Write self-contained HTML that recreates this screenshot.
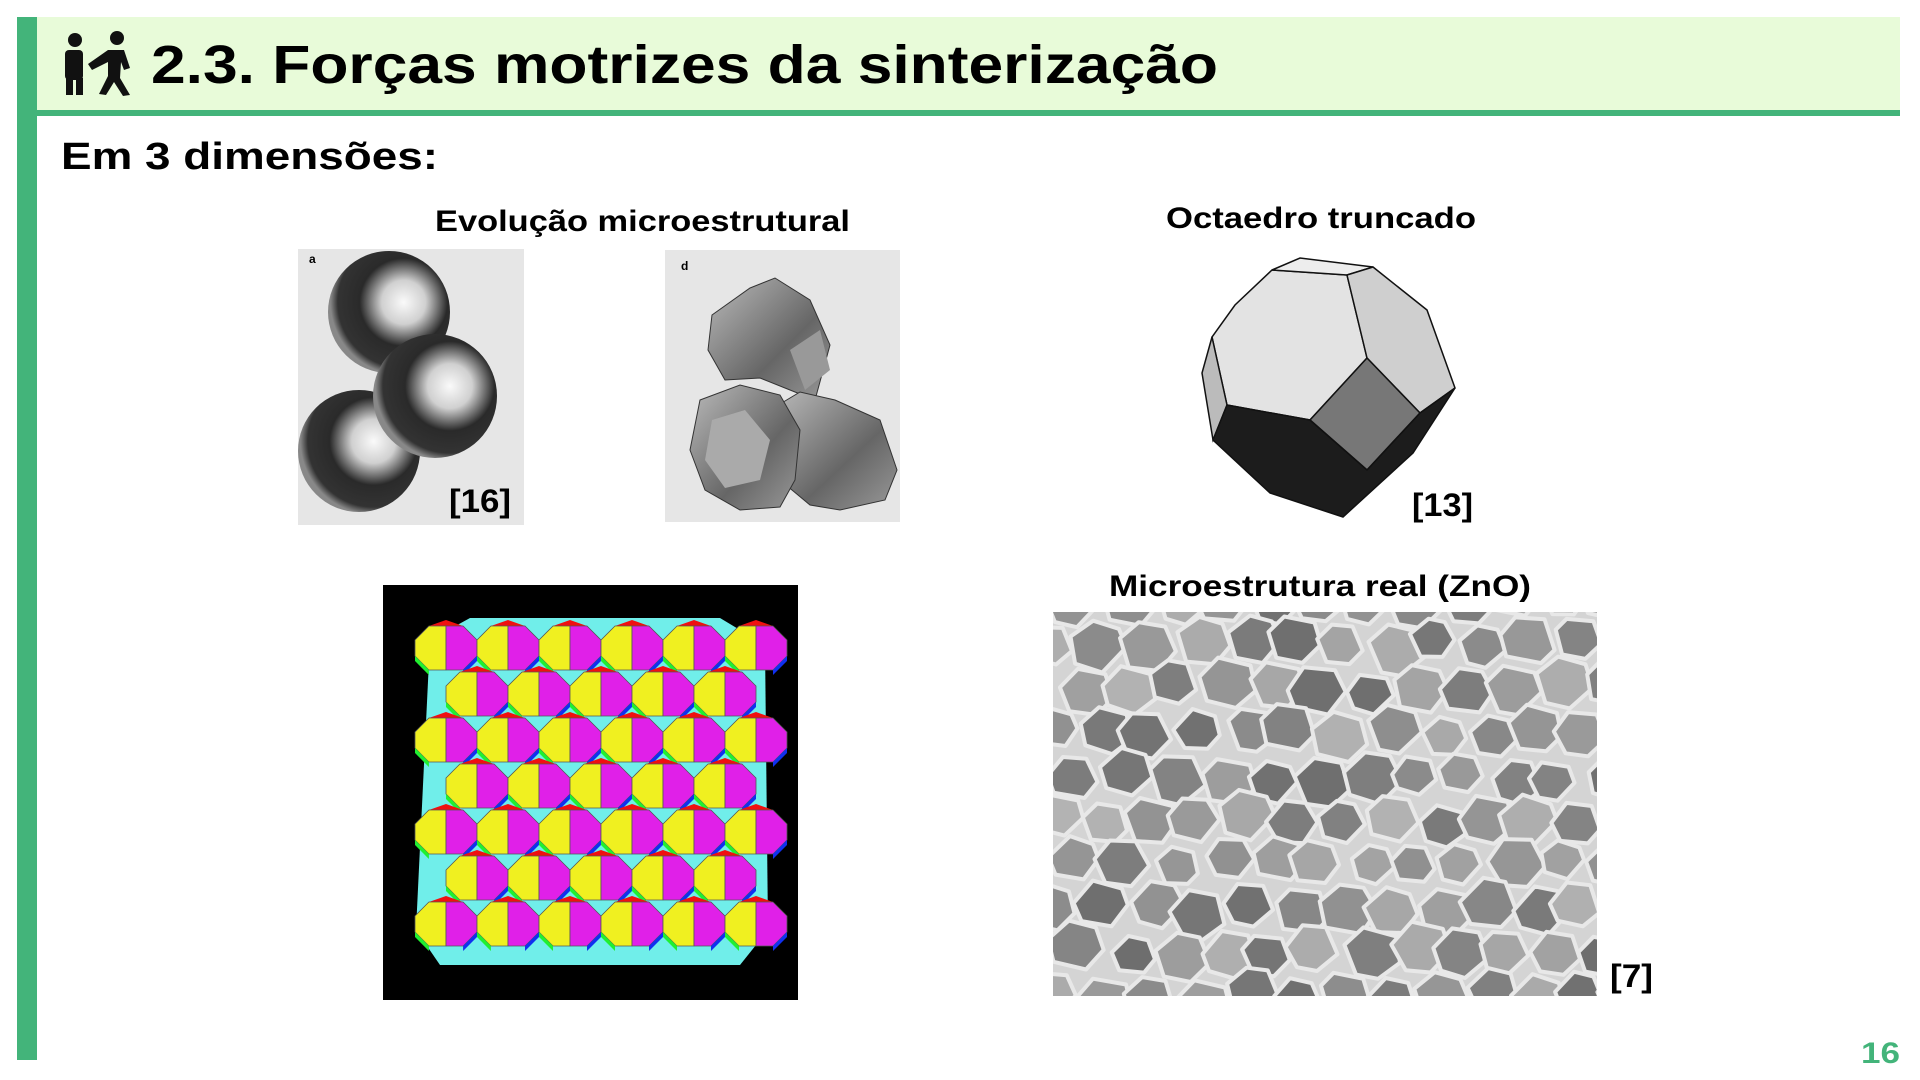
<!DOCTYPE html>
<html><head><meta charset="utf-8"><style>
html,body{margin:0;padding:0;background:#fff;width:1920px;height:1080px;overflow:hidden}
svg{display:block}
text{font-family:"Liberation Sans",sans-serif;font-weight:bold}
</style></head><body>
<svg id="s" width="1920" height="1080" viewBox="0 0 1920 1080">
<defs>
<radialGradient id="sph" cx="0.62" cy="0.42" r="0.6">
<stop offset="0" stop-color="#fafafa"/><stop offset="0.3" stop-color="#d0d0d0"/><stop offset="0.6" stop-color="#2a2a2a"/><stop offset="0.9" stop-color="#333"/><stop offset="1" stop-color="#888"/></radialGradient>
<linearGradient id="fac" x1="0" y1="0" x2="1" y2="1"><stop offset="0" stop-color="#bbb"/><stop offset="0.6" stop-color="#666"/><stop offset="1" stop-color="#999"/></linearGradient>
<clipPath id="zclip"><rect x="1053" y="612" width="544" height="384"/></clipPath>
</defs>
<rect x="17" y="17" width="1883" height="93" fill="#e8fbd9"/>
<rect x="17" y="110" width="1883" height="6" fill="#43b47a"/>
<rect x="17" y="17" width="20" height="1043" fill="#43b47a"/>
<g fill="#111">
<circle cx="75" cy="40" r="7"/><rect x="65" y="50" width="18" height="30" rx="4"/><rect x="66" y="78" width="7" height="17"/><rect x="76" y="78" width="7" height="17"/>
<circle cx="117" cy="38" r="7"/><path d="M108 50 L124 50 L130 68 L124 70 L121 62 L120 78 L130 95 L123 96 L114 82 L106 95 L99 94 L108 76 L108 62 L92 70 L88 64 Z"/>
</g>
<text x="151" y="83" font-size="54" textLength="1067" lengthAdjust="spacingAndGlyphs">2.3. Forças motrizes da sinterização</text>
<text x="61" y="169" font-size="38" textLength="377" lengthAdjust="spacingAndGlyphs">Em 3 dimensões:</text>
<text x="435" y="231" font-size="30" textLength="415" lengthAdjust="spacingAndGlyphs">Evolução microestrutural</text>
<text x="1166" y="228" font-size="30" textLength="310" lengthAdjust="spacingAndGlyphs">Octaedro truncado</text>
<text x="1109" y="596" font-size="30" textLength="422" lengthAdjust="spacingAndGlyphs">Microestrutura real (ZnO)</text>

<g>
<rect x="298" y="249" width="226" height="276" fill="#e6e6e6"/>
<text x="309" y="263" font-size="12" font-family="Liberation Serif" font-weight="normal">a</text>
<circle cx="389" cy="312" r="61" fill="url(#sph)"/>
<circle cx="359" cy="451" r="61" fill="url(#sph)"/>
<circle cx="435" cy="396" r="62" fill="url(#sph)"/>
</g>
<text x="449" y="512" font-size="32" textLength="62" lengthAdjust="spacingAndGlyphs">[16]</text>

<g>
<rect x="665" y="250" width="235" height="272" fill="#e6e6e6"/>
<text x="681" y="270" font-size="12" font-family="Liberation Serif" font-weight="normal">d</text>
<polygon points="750,288 775,278 810,300 830,345 815,400 790,390 760,378 725,380 708,350 712,315" fill="url(#fac)" stroke="#333"/>
<polygon points="770,410 800,392 835,400 880,420 897,470 885,500 840,510 810,505 780,480" fill="url(#fac)" stroke="#333"/>
<polygon points="700,400 740,385 780,395 800,430 795,480 780,507 740,510 705,490 690,450" fill="url(#fac)" stroke="#333"/>
<polygon points="712,420 745,410 770,440 760,480 725,488 705,460" fill="#aaa"/>
<polygon points="790,350 820,330 830,370 805,390" fill="#999"/>
</g>

<g stroke="#111" stroke-width="1.5">
<polygon points="1272,270 1347,275 1367,358 1310,420 1227,405 1212,337 1235,305" fill="#e3e3e3"/>
<polygon points="1272,270 1300,258 1373,267 1347,275" fill="#ededed"/>
<polygon points="1347,275 1373,267 1427,310 1455,388 1420,413 1367,358" fill="#cfcfcf"/>
<polygon points="1367,358 1420,413 1367,470 1310,420" fill="#777"/>
<polygon points="1212,337 1227,405 1213,440 1202,373" fill="#bbb"/>
<polygon points="1227,405 1310,420 1367,470 1420,413 1455,388 1413,453 1343,517 1270,493 1213,440" fill="#1c1c1c"/>
</g>
<text x="1412" y="516" font-size="32" textLength="61" lengthAdjust="spacingAndGlyphs">[13]</text>

<g>
<rect x="383" y="585" width="415" height="415" fill="#000"/>
<g id="cells"></g>
</g>

<g>
<rect x="1053" y="612" width="544" height="384" fill="#d4d4d4"/>
<g id="grains" clip-path="url(#zclip)"></g>
</g>
<text x="1610" y="987" font-size="32" textLength="43" lengthAdjust="spacingAndGlyphs">[7]</text>
<text x="1861" y="1063" font-size="30" fill="#43b47a" textLength="39" lengthAdjust="spacingAndGlyphs">16</text>
</svg>
<script>
var NS='http://www.w3.org/2000/svg';
var cells=document.getElementById('cells');
function poly(g,pts,fill,stroke,sw){var p=document.createElementNS(NS,'polygon');p.setAttribute('points',pts.map(function(a){return a[0].toFixed(1)+','+a[1].toFixed(1)}).join(' '));p.setAttribute('fill',fill);if(stroke){p.setAttribute('stroke',stroke);p.setAttribute('stroke-width',sw||'0.8');p.setAttribute('stroke-linejoin','round');}g.appendChild(p);return p;}
// colored truncated-octahedron packing: background of cyan, then hex pairs
poly(cells,[[430,640],[470,618],[720,618],[765,645],[768,930],[740,965],[440,965],[416,930]],'#70eeea');
var w=31;
for(var r=0;r<7;r++){for(var c=0;c<6;c++){
 var off=(r%2)?31:0;
 var cx=446+c*62+off, cy=648+r*46;
 if(cx>760)continue;
 poly(cells,[[cx-w*0.55,cy-22],[cx,cy-28],[cx+w*0.55,cy-22],[cx,cy-16]],'#f01010');
 poly(cells,[[cx-w,cy-8],[cx-w*0.55,cy-22],[cx,cy-22],[cx,cy+22],[cx-w*0.55,cy+22],[cx-w,cy+8]],'#f0f020','#555');
 poly(cells,[[cx,cy-22],[cx+w*0.55,cy-22],[cx+w,cy-8],[cx+w,cy+8],[cx+w*0.55,cy+22],[cx,cy+22]],'#e020e8','#555');
 poly(cells,[[cx+w,cy+8],[cx+w,cy+13],[cx+w*0.55,cy+27],[cx+w*0.55,cy+22]],'#1030f0');
 poly(cells,[[cx-w,cy+8],[cx-w,cy+13],[cx-w*0.55,cy+27],[cx-w*0.55,cy+22]],'#20f030');
}}
// ZnO-like grains
var g=document.getElementById('grains');
var seed=7;function rnd(){seed=(seed*16807)%2147483647;return seed/2147483647;}
for(var y=600;y<1020;y+=44){for(var x=1040;x<1620;x+=48){
 var gx=x+rnd()*16-8+((y/44)%2)*24, gy=y+rnd()*14-7, rad=22+rnd()*8, n=6;
 var pts=[];for(var k=0;k<n;k++){var a=k/n*Math.PI*2+rnd()*0.4;pts.push([gx+Math.cos(a)*rad,gy+Math.sin(a)*rad*0.9]);}
 var v=Math.floor(110+rnd()*70);
 poly(g,pts,'rgb('+v+','+v+','+v+')','#e8e8e8','4');
}}
</script>
</body></html>
